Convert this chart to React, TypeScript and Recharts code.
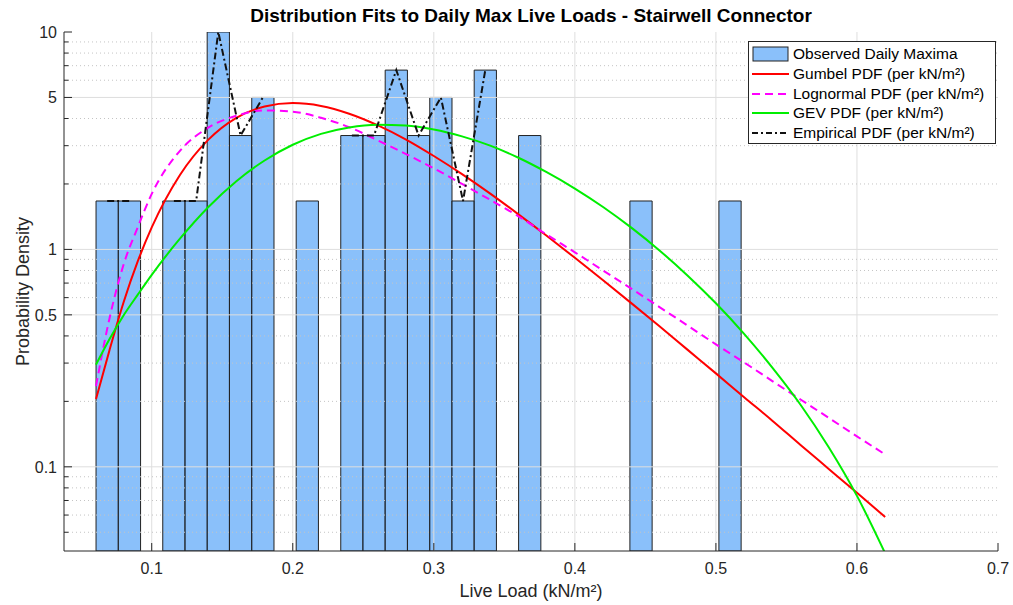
import React from 'react'
import {
  ComposedChart,
  Line,
  XAxis,
  YAxis,
  ReferenceArea,
  ReferenceLine,
  Legend,
} from 'recharts'

// histogram bins (centres), density per bin
const binCenters = [
  0.0684, 0.0842, 0.0999, 0.1157, 0.1315, 0.1472, 0.163, 0.1788, 0.1946, 0.2103,
  0.2261, 0.2419, 0.2576, 0.2734, 0.2892, 0.305, 0.3207, 0.3365, 0.3523, 0.368,
  0.3838, 0.3996, 0.4154, 0.4311, 0.4469, 0.4627, 0.4784, 0.4942, 0.51,
]
const binWidth = 0.01577
const binDensity = [
  1.67, 1.67, 0, 1.67, 1.67, 10.0, 3.34, 5.0, 0, 1.67,
  0, 3.34, 3.34, 6.68, 3.34, 5.0, 1.67, 6.68, 0, 3.34,
  0, 0, 0, 0, 1.67, 0, 0, 0, 1.67,
]

// fitted pdf curves
const fitX = [
  0.0605, 0.07, 0.08, 0.09, 0.1, 0.12, 0.14, 0.16, 0.18, 0.2, 0.22, 0.24, 0.26, 0.28, 0.3, 0.32,
  0.34, 0.36, 0.38, 0.4, 0.42, 0.44, 0.46, 0.48, 0.5, 0.52, 0.54, 0.56, 0.58, 0.6, 0.62,
]
const gumbel = [
  0.205, 0.343, 0.57, 0.878, 1.262, 2.2, 3.19, 4.03, 4.54, 4.71, 4.57, 4.21, 3.73, 3.21, 2.69, 2.22,
  1.805, 1.45, 1.156, 0.915, 0.721, 0.566, 0.443, 0.345, 0.269, 0.209, 0.163, 0.126, 0.0978, 0.0759, 0.0588,
]
const lognormal = [
  0.235, 0.48, 0.85, 1.26, 1.8, 2.84, 3.63, 4.12, 4.36, 4.3, 4.03, 3.65, 3.18, 2.75, 2.36, 2.0,
  1.69, 1.42, 1.17, 0.97, 0.8, 0.66, 0.543, 0.446, 0.366, 0.302, 0.248, 0.204, 0.168, 0.138, 0.114,
]
const gev = [
  0.295, 0.386, 0.497, 0.618, 0.764, 1.12, 1.563, 2.06, 2.565, 3.03, 3.4, 3.64, 3.74, 3.71, 3.56, 3.31,
  3.0, 2.64, 2.265, 1.905, 1.567, 1.259, 0.989, 0.757, 0.565, 0.409, 0.286, 0.193, 0.123, 0.0735, 0.04,
]

const xTicks = [0.1, 0.2, 0.3, 0.4, 0.5, 0.6, 0.7]
const xGrid = [0.1, 0.2, 0.3, 0.4, 0.5, 0.6]
const yMajor = [0.1, 0.5, 1, 5, 10]
const yMinor = [0.05, 0.06, 0.07, 0.08, 0.09, 0.2, 0.3, 0.4, 0.6, 0.7, 0.8, 0.9, 2, 3, 4, 6, 7, 8, 9]
const yTicks = [...yMajor, ...yMinor].sort((a, b) => a - b)

const legendNames = [
  'Observed Daily Maxima',
  'Gumbel PDF (per kN/m²)',
  'Lognormal PDF (per kN/m²)',
  'GEV PDF (per kN/m²)',
  'Empirical PDF (per kN/m²)',
]

const X_DOMAIN: [number, number] = [0.0378, 0.7]
const Y_DOMAIN: [number, number] = [0.041, 10]
const AXIS = '#262626'
const FONT = '"Liberation Sans", Arial, sans-serif'
const BAR_FILL = '#3C96F7'
const GREEN = '#00ee00'
const LOGN_DASH = '8 5'
const EMP_DASH = '7 3 2 3'

const fitRows = fitX.map((x, i) => ({ x, gumbel: gumbel[i], lognormal: lognormal[i], gev: gev[i] }))
const empiricalRows = binCenters.map((x, i) => ({ x, y: binDensity[i] > 0 ? binDensity[i] : null }))

function BottomTick({ x, y, payload }: any) {
  return (
    <g>
      <line x1={x} x2={x} y1={y} y2={y - 8} stroke={AXIS} />
      <text x={x} y={y + 23} textAnchor="middle" fontSize={16} fill={AXIS} fontFamily={FONT}>
        {payload.value}
      </text>
    </g>
  )
}

function TopTick({ x, y }: any) {
  return <line x1={x} x2={x} y1={y} y2={y + 8} stroke={AXIS} />
}

function LeftTick({ x, y, payload }: any) {
  const major = yMajor.includes(payload.value)
  return (
    <g>
      <line x1={x} x2={x + (major ? 8 : 4.5)} y1={y} y2={y} stroke={AXIS} />
      {major && (
        <text x={x - 7} y={y + 6} textAnchor="end" fontSize={16} fill={AXIS} fontFamily={FONT}>
          {payload.value}
        </text>
      )}
    </g>
  )
}

function RightTick({ x, y, payload }: any) {
  const major = yMajor.includes(payload.value)
  return <line x1={x} x2={x - (major ? 8 : 4.5)} y1={y} y2={y} stroke={AXIS} />
}

function LegendBox() {
  const rowH = 19.8
  const lineStyles = [
    null,
    { stroke: '#ff0000', dash: undefined },
    { stroke: '#ff00ff', dash: LOGN_DASH },
    { stroke: GREEN, dash: undefined },
    { stroke: '#111111', dash: '6 3 2 3' },
  ]
  const symbol = (i: number) => {
    if (i === 0)
      return <rect x={1} y={3} width={35} height={14} fill={BAR_FILL} fillOpacity={0.6} stroke="#222" />
    const s = lineStyles[i]!
    return <line x1={0} x2={37} y1={10} y2={10} stroke={s.stroke} strokeWidth={2} strokeDasharray={s.dash} />
  }
  return (
    <div
      style={{
        width: 248,
        height: 103,
        boxSizing: 'border-box',
        border: `1px solid ${AXIS}`,
        background: '#fff',
        position: 'relative',
        fontFamily: FONT,
        fontSize: 15.5,
        color: '#000',
      }}
    >
      {legendNames.map((name, i) => (
        <div
          key={name}
          style={{ position: 'absolute', left: 3, top: 2 + i * rowH, height: 20, display: 'flex', alignItems: 'center' }}
        >
          <svg width={38} height={20} style={{ display: 'block' }}>
            {symbol(i)}
          </svg>
          <span style={{ marginLeft: 3, whiteSpace: 'nowrap', lineHeight: '20px' }}>{name}</span>
        </div>
      ))}
    </div>
  )
}

export default function App() {
  return (
    <div
      style={{ position: 'fixed', left: 0, top: 0, width: 1013, height: 605, background: '#fff', fontFamily: FONT }}
    >
      <div
        style={{
          position: 'absolute',
          left: 64,
          top: 6,
          width: 934,
          textAlign: 'center',
          fontSize: 19,
          lineHeight: '19px',
          fontWeight: 'bold',
          color: '#000',
        }}
      >
        Distribution Fits to Daily Max Live Loads - Stairwell Connector
      </div>
      <ComposedChart width={1013} height={605} data={fitRows} margin={{ top: 32, right: 15, bottom: 0, left: 0 }}>
        <XAxis
          type="number"
          dataKey="x"
          domain={X_DOMAIN}
          allowDataOverflow
          ticks={xTicks}
          interval={0}
          height={54}
          tickSize={0}
          tickMargin={0}
          tickLine={false}
          tick={<BottomTick />}
          axisLine={{ stroke: AXIS }}
          label={{ value: 'Live Load (kN/m²)', position: 'insideBottom', offset: 8, fontSize: 18, fill: AXIS }}
        />
        <XAxis
          xAxisId="top"
          orientation="top"
          type="number"
          dataKey="x"
          domain={X_DOMAIN}
          allowDataOverflow
          ticks={xTicks}
          interval={0}
          height={0}
          tickSize={0}
          tickMargin={0}
          tickLine={false}
          tick={<TopTick />}
          axisLine={{ stroke: AXIS }}
        />
        <YAxis
          type="number"
          scale="log"
          domain={Y_DOMAIN}
          allowDataOverflow
          ticks={yTicks}
          interval={0}
          width={64}
          tickSize={0}
          tickMargin={0}
          tickLine={false}
          tick={<LeftTick />}
          axisLine={{ stroke: AXIS }}
          label={{
            value: 'Probability Density',
            angle: -90,
            position: 'insideLeft',
            offset: 23,
            fontSize: 18,
            fill: AXIS,
            style: { textAnchor: 'middle' },
          }}
        />
        <YAxis
          yAxisId="right"
          orientation="right"
          type="number"
          scale="log"
          domain={Y_DOMAIN}
          allowDataOverflow
          ticks={yTicks}
          interval={0}
          width={0}
          tickSize={0}
          tickMargin={0}
          tickLine={false}
          tick={<RightTick />}
          axisLine={{ stroke: AXIS }}
        />

        {xGrid.map(v => (
          <ReferenceLine key={`gx${v}`} x={v} stroke="#dedede" strokeWidth={1} />
        ))}
        {yMajor.slice(0, 4).map(v => (
          <ReferenceLine key={`gy${v}`} y={v} stroke="#dedede" strokeWidth={1} />
        ))}
        {yMinor.map(v => (
          <ReferenceLine key={`gm${v}`} y={v} stroke="#c4c4c4" strokeWidth={1} strokeDasharray="1 3" />
        ))}

        {binCenters.map((c, i) =>
          binDensity[i] > 0 ? (
            <ReferenceArea
              key={`bin${i}`}
              x1={c - binWidth / 2}
              x2={c + binWidth / 2}
              y1={Y_DOMAIN[0]}
              y2={binDensity[i]}
              fill={BAR_FILL}
              fillOpacity={0.6}
              stroke="#222"
              strokeWidth={1}
              strokeOpacity={1}
              ifOverflow="hidden"
            />
          ) : null
        )}

        <Line type="monotone" dataKey="gumbel" stroke="#ff0000" strokeWidth={2} dot={false} activeDot={false} isAnimationActive={false} />
        <Line
          type="monotone"
          dataKey="lognormal"
          stroke="#ff00ff"
          strokeWidth={2}
          strokeDasharray={LOGN_DASH}
          dot={false}
          activeDot={false}
          isAnimationActive={false}
        />
        <Line type="monotone" dataKey="gev" stroke={GREEN} strokeWidth={2} dot={false} activeDot={false} isAnimationActive={false} />
        <Line
          data={empiricalRows}
          type="linear"
          dataKey="y"
          stroke="#111111"
          strokeWidth={2}
          strokeDasharray={EMP_DASH}
          connectNulls={false}
          dot={false}
          activeDot={false}
          isAnimationActive={false}
        />

        <Legend
          layout="vertical"
          align="center"
          verticalAlign="middle"
          content={() => <LegendBox />}
          wrapperStyle={{ left: 748, top: 41, width: 248, height: 103 }}
        />
      </ComposedChart>
    </div>
  )
}
